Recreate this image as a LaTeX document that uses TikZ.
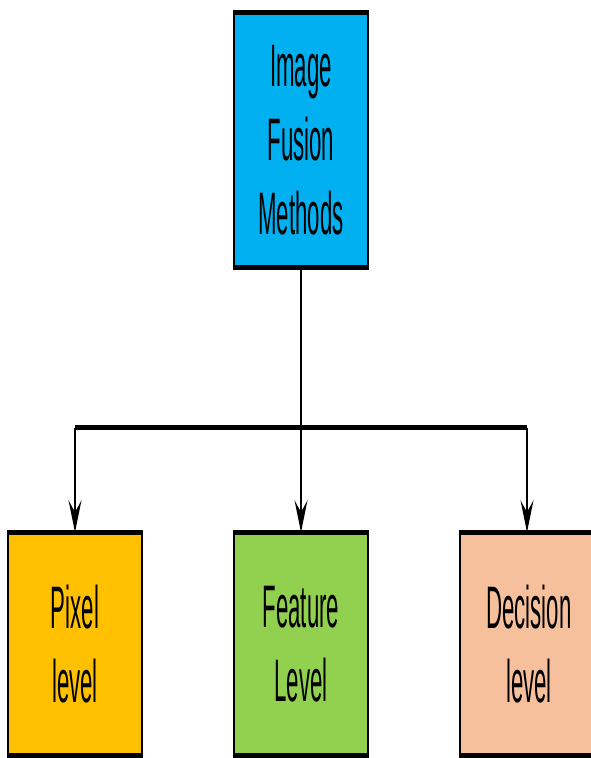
\documentclass[tikz,border=0pt]{standalone}
\usepackage{fontspec}
\setmainfont{Liberation Sans}
\newfontfamily\boxfont[FakeStretch=0.37]{Liberation Sans}
\usetikzlibrary{arrows.meta}

\definecolor{methodblue}{HTML}{00B0F0}
\definecolor{pixelgold}{HTML}{FFC000}
\definecolor{featuregreen}{HTML}{92D050}
\definecolor{decisionpeach}{HTML}{F6C09C}

\begin{document}
\begin{tikzpicture}[x=1pt,y=1pt]
  \tikzset{
    fusionbox/.style={
      rectangle,
      draw=black,
      line width=1.5pt,
      minimum width=134pt,
      minimum height=222pt,
      inner sep=0pt,
      align=center,
      font=\boxfont\fontsize{60}{74}\selectfont
    },
    boxedge/.style={line width=5pt},
    link/.style={line width=1.5pt},
    bar/.style={line width=5pt},
    tip/.style={-{Stealth[length=32pt,width=13pt,inset=12pt]}}
  }

  \useasboundingbox (0,0) rectangle (590,758);

  \node[fusionbox, fill=methodblue, minimum height=253pt] (methods) at (301, 618) {Image\\Fusion\\Methods};
  \node[fusionbox, fill=pixelgold] (pixel) at (75, 114) {Pixel\\level};
  \node[fusionbox, fill=featuregreen] (feature) at (301, 114) {Feature\\Level};
  \node[fusionbox, fill=decisionpeach, minimum width=138pt] (decision) at (529, 114) {Decision\\level};

  \coordinate (barleft) at (75, 330);
  \coordinate (barright) at (527, 330);

  % heavier top and bottom edges
  \foreach \n in {methods, pixel, feature, decision}
    \draw[boxedge] (\n.north west) -- (\n.north east) (\n.south west) -- (\n.south east);

  \draw[bar] (barleft) -- (barright);
  \draw[link, tip] (methods) -- (feature);
  \draw[link, tip] (barleft) -- (barleft |- pixel.north);
  \draw[link, tip] (barright) -- (barright |- decision.north);
\end{tikzpicture}
\end{document}
